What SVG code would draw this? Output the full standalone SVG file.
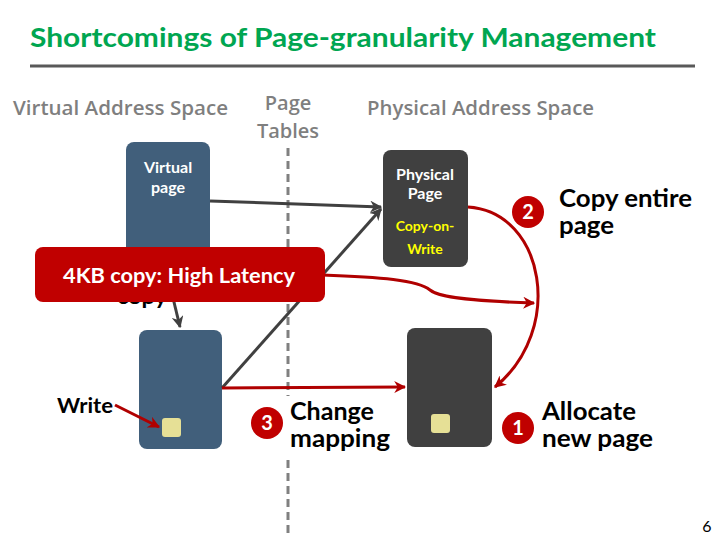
<svg xmlns="http://www.w3.org/2000/svg" width="720" height="540" viewBox="0 0 720 540">
<defs>
<style>
text{font-family:Lato,"Open Sans","Liberation Sans",sans-serif}
.title{font-size:27px;font-weight:bold;fill:#00a651}
.hdr{font-size:20px;font-weight:600;fill:#7f7f7f;font-family:"Open Sans",Lato,sans-serif}
.wt{font-size:16px;font-weight:bold;fill:#ffffff;text-anchor:middle}
.yt{font-size:14px;font-weight:bold;fill:#ffff00;text-anchor:middle}
.lbl{font-size:24px;font-weight:bold;fill:#000000}
.num{font-size:20px;font-weight:bold;fill:#ffffff;text-anchor:middle}
.vbox{fill:#415f7b}
.pbox{fill:#404040}
.cell{fill:#e6e096}
.gl{stroke:#404040;stroke-width:3;fill:none}
.rl{stroke:#b00000;stroke-width:3;fill:none}
</style>
<marker id="ag" viewBox="0 0 10 10" refX="9" refY="5" markerWidth="4" markerHeight="4" orient="auto"><path d="M0,0 L10,5 L0,10 L3,5 z" fill="#404040"/></marker>
<marker id="ar" viewBox="0 0 10 10" refX="9" refY="5" markerWidth="4" markerHeight="4" orient="auto"><path d="M0,0 L10,5 L0,10 L3,5 z" fill="#b00000"/></marker>
</defs>
<rect width="720" height="540" fill="#ffffff"/>
<g id="title">
<text class="title" x="30" y="47" textLength="626" lengthAdjust="spacingAndGlyphs">Shortcomings of Page-granularity Management</text>
<line x1="30" y1="66" x2="695" y2="66" stroke="#595959" stroke-width="3"/>
</g>
<g id="headers">
<text class="hdr" x="13" y="115" textLength="215" lengthAdjust="spacingAndGlyphs">Virtual Address Space</text>
<text class="hdr" x="288" y="110" text-anchor="middle">Page</text>
<text class="hdr" x="288" y="138" text-anchor="middle">Tables</text>
<text class="hdr" x="367" y="115" textLength="227" lengthAdjust="spacingAndGlyphs">Physical Address Space</text>
</g>
<line id="divider" x1="288" y1="148" x2="288" y2="535" stroke="#808080" stroke-width="3" stroke-dasharray="8,5"/>
<g id="virtual-page">
<rect class="vbox" x="126" y="142" width="84" height="150" rx="8"/>
<text class="wt" x="168" y="173">Virtual</text>
<text class="wt" x="168" y="193">page</text>
</g>
<g id="copy-label"><text x="117" y="304" font-size="20" font-weight="bold" fill="#000" textLength="50" lengthAdjust="spacingAndGlyphs">copy</text></g>
<g id="virtual-page-new">
<rect class="vbox" x="139" y="330" width="83" height="119" rx="8"/>
<rect class="cell" x="162" y="418" width="19" height="19" rx="3"/>
</g>
<g id="physical-page">
<rect class="pbox" x="383" y="150" width="85" height="117" rx="8"/>
<text class="wt" x="425" y="180">Physical</text>
<text class="wt" x="425" y="199">Page</text>
<text class="yt" x="425" y="231">Copy-on-</text>
<text class="yt" x="425" y="254">Write</text>
</g>
<g id="physical-page-new">
<rect class="pbox" x="407" y="328" width="85" height="119" rx="8"/>
<rect class="cell" x="431" y="414" width="19" height="19" rx="3"/>
</g>
<g id="write-label"><text x="57" y="413" font-size="20" font-weight="bold" fill="#000" textLength="56" lengthAdjust="spacingAndGlyphs">Write</text></g>
<g id="connectors">
<path class="gl" d="M210,201 L381,207" marker-end="url(#ag)"/>
<path class="gl" d="M222,388 L381,209" marker-end="url(#ag)"/>
<path class="gl" d="M173,298 L180,327" marker-end="url(#ag)"/>
<path class="rl" d="M115,405 L159,427" marker-end="url(#ar)"/>
<path class="rl" d="M222,388 L405,387" marker-end="url(#ar)"/>
<path class="rl" d="M468,207 C545,212 565,330 495,387" marker-end="url(#ar)"/>
<path class="rl" d="M322,275 C380,277 418,280 430,290 C442,300 500,302 534,303" marker-end="url(#ar)"/>
</g>
<g id="banner">
<rect x="35" y="247" width="290" height="55" rx="8" fill="#c00000"/>
<text x="63" y="283" font-size="20" font-weight="bold" fill="#ffffff" textLength="232" lengthAdjust="spacingAndGlyphs">4KB copy: High Latency</text>
</g>
<g id="step3">
<rect x="286" y="396" width="106" height="60" fill="#ffffff"/>
<circle cx="267" cy="423" r="16" fill="#c00000"/>
<text class="num" x="267" y="430">3</text>
<text class="lbl" x="290" y="420" textLength="84" lengthAdjust="spacingAndGlyphs">Change</text>
<text class="lbl" x="290" y="447" textLength="100" lengthAdjust="spacingAndGlyphs">mapping</text>
</g>
<g id="step2">
<circle cx="528" cy="212" r="16" fill="#c00000"/>
<text class="num" x="528" y="219">2</text>
<text class="lbl" x="559" y="207" textLength="133" lengthAdjust="spacingAndGlyphs">Copy entire</text>
<text class="lbl" x="559" y="234" textLength="55" lengthAdjust="spacingAndGlyphs">page</text>
</g>
<g id="step1">
<circle cx="518" cy="428" r="16" fill="#c00000"/>
<text class="num" x="518" y="435">1</text>
<text class="lbl" x="542" y="420" textLength="94" lengthAdjust="spacingAndGlyphs">Allocate</text>
<text class="lbl" x="542" y="447" textLength="111" lengthAdjust="spacingAndGlyphs">new page</text>
</g>
<text x="707" y="532" font-size="16" fill="#000" text-anchor="middle">6</text>
</svg>
